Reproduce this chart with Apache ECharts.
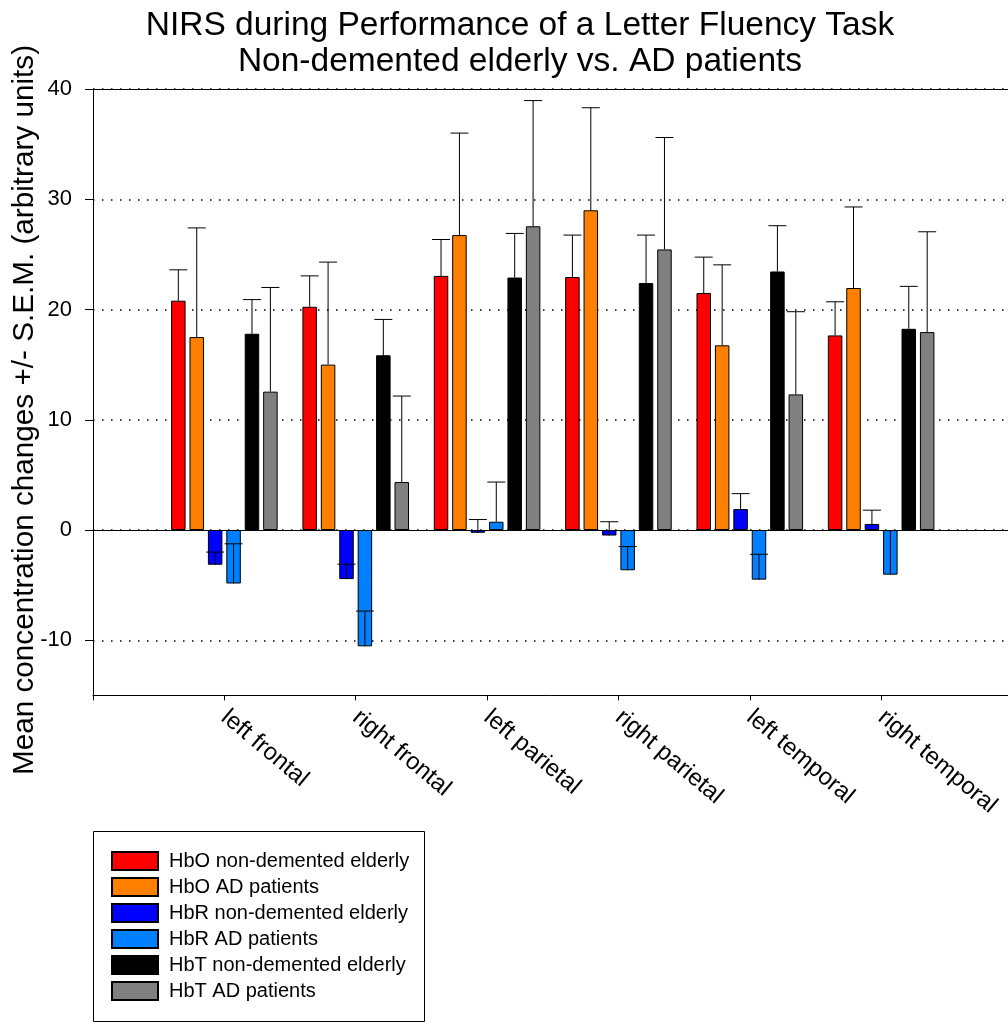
<!DOCTYPE html>
<html>
<head>
<meta charset="utf-8">
<script src="https://cdn.jsdelivr.net/npm/echarts@6/dist/echarts.min.js"></script>
<style>
  html, body { margin: 0; padding: 0; background: #ffffff; }
  #chart { width: 1008px; height: 1023px; }
</style>
</head>
<body>
<div id="chart"></div>
<script>
// Brain regions on the x axis
const regions = ['left frontal', 'right frontal', 'left parietal', 'right parietal', 'left temporal', 'right temporal'];

// Group names (legend order)
const groupNames = [
  'HbO non-demented elderly',
  'HbO AD patients',
  'HbR non-demented elderly',
  'HbR AD patients',
  'HbT non-demented elderly',
  'HbT AD patients'
];

// Mean concentration changes (arbitrary units) per region
const hboElderly = [20.8, 20.25, 23.05, 22.95, 21.5, 17.65];
const hboAD      = [17.5, 15.0, 26.75, 29.0, 16.75, 21.95];
const hbrElderly = [-3.15, -4.45, -0.25, -0.5, 1.9, 0.55];
const hbrAD      = [-4.85, -10.55, 0.75, -3.65, -4.5, -4.05];
const hbtElderly = [17.8, 15.85, 22.9, 22.4, 23.45, 18.25];
const hbtAD      = [12.55, 4.35, 27.55, 25.45, 12.3, 17.95];

// Standard errors of the mean per region
const hboElderlySem = [2.8, 2.8, 3.3, 3.8, 3.25, 3.05];
const hboADSem      = [9.9, 9.3, 9.25, 9.3, 7.3, 7.35];
const hbrElderlySem = [1.15, 1.35, 1.2, 1.25, 1.4, 1.25];
const hbrADSem      = [3.6, 3.2, 3.6, 2.15, 2.3, 4.0];
const hbtElderlySem = [3.1, 3.25, 4.0, 4.35, 4.15, 3.85];
const hbtADSem      = [9.45, 7.8, 11.4, 10.15, 7.5, 9.1];

// Labelled ticks on the value axis
const yTickValues = [-10, 0, 10, 20, 30, 40];

const groupMeans = [hboElderly, hboAD, hbrElderly, hbrAD, hbtElderly, hbtAD];
const groupSems = [hboElderlySem, hboADSem, hbrElderlySem, hbrADSem, hbtElderlySem, hbtADSem];

// Fill colours, one per group
const palette = ['#ff0000', '#ff8000', '#0000ff', '#0080ff', '#000000', '#808080'];

const FONT = '"Liberation Sans", Arial, Helvetica, sans-serif';
const BAR_WIDTH = 14.5;
const BAR_GAP = '27%';
const CAP_HALF = 9;

// The category axis has an empty slot at each end so the regions sit one band in from the frame
const axisCategories = [''].concat(regions, ['']);

function padded(values) {
  return ['-'].concat(values, ['-']);
}

function errorBarRenderer(k) {
  return function (params, api) {
    const x = api.value(0);
    const base = api.coord([x, api.value(1)]);
    const tip = api.coord([x, api.value(2)]);
    const layout = api.barLayout({ count: groupNames.length, barWidth: BAR_WIDTH, barGap: BAR_GAP });
    const cx = base[0] + layout[k].offsetCenter;
    const style = { stroke: '#000000', lineWidth: 1 };
    return {
      type: 'group',
      children: [
        { type: 'line', shape: { x1: cx, y1: base[1], x2: cx, y2: tip[1] }, style: style },
        { type: 'line', shape: { x1: cx - CAP_HALF, y1: tip[1], x2: cx + CAP_HALF, y2: tip[1] }, style: style }
      ]
    };
  };
}

const series = [];
groupNames.forEach(function (name, k) {
  const s = {
    name: name,
    type: 'bar',
    data: padded(groupMeans[k]),
    barWidth: BAR_WIDTH,
    barGap: BAR_GAP,
    itemStyle: { color: palette[k], borderColor: '#000000', borderWidth: 1 },
    emphasis: { disabled: true },
    z: 2
  };
  if (k === 0) {
    s.markLine = {
      silent: true,
      symbol: 'none',
      label: { show: false },
      lineStyle: { color: '#000000', width: 1, type: 'solid' },
      data: [{ yAxis: 0 }, { yAxis: 40 }],
      z: 4
    };
  }
  series.push(s);
});

groupNames.forEach(function (name, k) {
  series.push({
    name: name + ' SEM',
    type: 'custom',
    renderItem: errorBarRenderer(k),
    data: groupMeans[k].map(function (v, i) { return [i + 1, v, v + groupSems[k][i]]; }),
    encode: { x: 0, y: [1, 2] },
    z: 3,
    silent: true
  });
});

const chart = echarts.init(document.getElementById('chart'), null, { renderer: 'canvas' });

chart.setOption({
  animation: false,
  backgroundColor: '#ffffff',
  textStyle: { fontFamily: FONT },
  grid: { left: 93, top: 89, width: 919.5, height: 606.4, containLabel: false, outerBoundsMode: 'none' },
  xAxis: {
    type: 'category',
    data: axisCategories,
    boundaryGap: false,
    axisLine: { show: true, onZero: false, lineStyle: { color: '#000000', width: 1 } },
    axisTick: { show: true, length: 5, lineStyle: { color: '#000000' } },
    axisLabel: {
      rotate: -40,
      align: 'left',
      verticalAlign: 'middle',
      margin: 19,
      fontSize: 24,
      color: '#000000',
      fontFamily: FONT,
      interval: 0
    },
    splitLine: { show: false }
  },
  yAxis: {
    type: 'value',
    min: -15,
    max: 40,
    interval: 5,
    axisLine: { show: true, lineStyle: { color: '#000000', width: 1 } },
    axisTick: { show: true, length: 8, customValues: yTickValues, lineStyle: { color: '#000000' } },
    axisLabel: { customValues: yTickValues, margin: 21, fontSize: 22, color: '#000000', fontFamily: FONT },
    splitLine: { show: true, lineStyle: { color: '#000000', width: 1.5, type: [1.5, 7.5] } }
  },
  legend: {
    data: groupNames,
    orient: 'vertical',
    left: 111,
    top: 851,
    padding: 0,
    icon: 'rect',
    itemWidth: 46,
    itemHeight: 18,
    itemGap: 6,
    selectedMode: false,
    textStyle: { fontSize: 20, color: '#000000', fontFamily: FONT, padding: [0, 0, 0, 6] }
  },
  graphic: [
    {
      type: 'text', x: 520, y: 26, silent: true,
      style: { text: 'NIRS during Performance of a Letter Fluency Task', font: '33.5px ' + FONT, fill: '#000000', align: 'center', verticalAlign: 'middle' }
    },
    {
      type: 'text', x: 520, y: 62, silent: true,
      style: { text: 'Non-demented elderly vs. AD patients', font: '33.5px ' + FONT, fill: '#000000', align: 'center', verticalAlign: 'middle' }
    },
    {
      type: 'text', x: 25, y: 410, rotation: Math.PI / 2, silent: true,
      style: { text: 'Mean concentration changes +/- S.E.M. (arbitrary units)', font: '29.7px ' + FONT, fill: '#000000', align: 'center', verticalAlign: 'middle' }
    },
    {
      type: 'rect', silent: true,
      shape: { x: 93.5, y: 831.5, width: 331, height: 190 },
      style: { fill: 'none', stroke: '#000000', lineWidth: 1 }
    }
  ],
  series: series
});
</script>
</body>
</html>
